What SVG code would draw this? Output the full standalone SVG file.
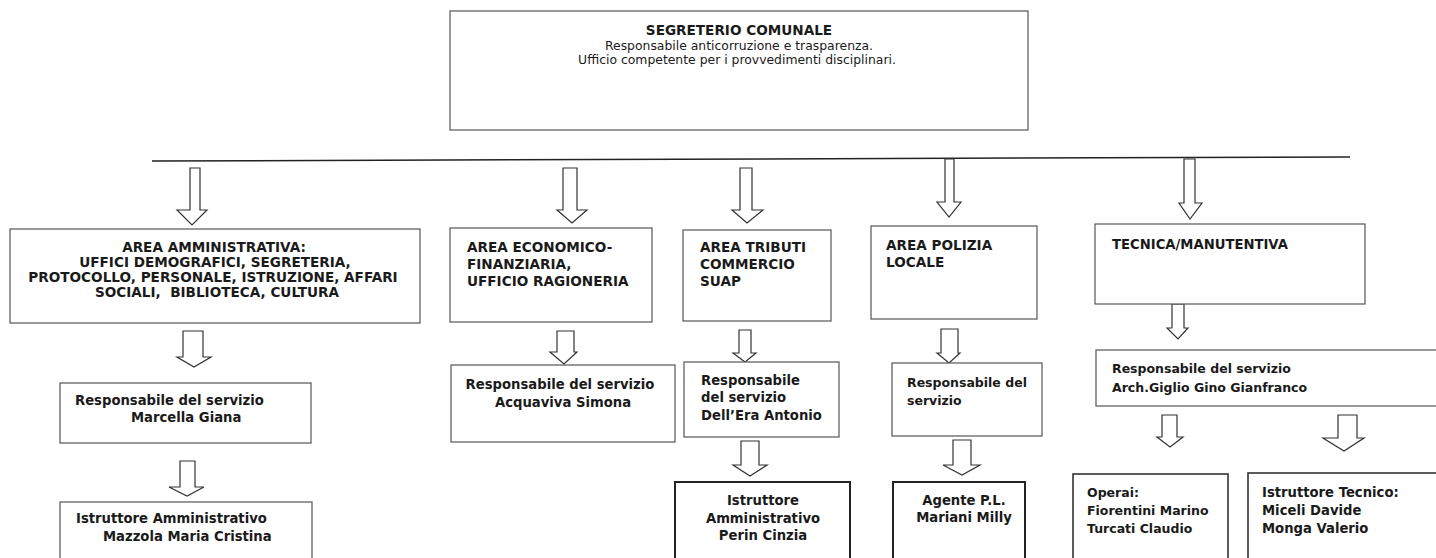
<svg xmlns="http://www.w3.org/2000/svg" width="1436" height="558" viewBox="0 0 1436 558">
<style>
.box{fill:#fff;stroke:#555;stroke-width:1.2}
.bx2{fill:#fff;stroke:#222;stroke-width:2}
.arr{fill:#fff;stroke:#333;stroke-width:1.2;stroke-linejoin:miter}
.t{font-family:"DejaVu Sans","Liberation Sans",sans-serif;font-weight:bold;font-size:13.2px;fill:#1a1a1a}
.r{font-family:"DejaVu Sans","Liberation Sans",sans-serif;font-size:12.4px;fill:#1a1a1a}
.m{text-anchor:middle}
.s{font-size:12.5px}
.l{font-size:13.6px}
</style>
<rect width="1436" height="558" fill="#fff"/>
<g id="connectors">
<line x1="152" y1="161" x2="1350" y2="157" stroke="#222" stroke-width="1.5"/>
<path class="arr" d="M190,168H200V210H207L192,225L177,210H190Z"/>
<path class="arr" d="M563,168H577V210H587L572,223L557,210H563Z"/>
<path class="arr" d="M740,168H752V210H763L747,223L732,210H740Z"/>
<path class="arr" d="M945,159H954V202H961L949,217L937,202H945Z"/>
<path class="arr" d="M1184,159H1195V203H1202L1190,219L1179,203H1184Z"/>
<path class="arr" d="M183,331H203V357H211L194,367L177,357H183Z"/>
<path class="arr" d="M557,331H574V352H577L564,364L550,352H557Z"/>
<path class="arr" d="M739,330H751V353H756L745,362L733,353H739Z"/>
<path class="arr" d="M941,329H958V353H960L949,363L937,353H941Z"/>
<path class="arr" d="M1172,304H1184V328H1188L1178,339L1167,328H1172Z"/>
<path class="arr" d="M180,461H195V487H204L187,496L169,487H180Z"/>
<path class="arr" d="M741,441H759V465H767L750,476L733,465H741Z"/>
<path class="arr" d="M953,440H971V465H980L962,475L943,465H953Z"/>
<path class="arr" d="M1162,415H1177V437H1183L1170,447L1157,437H1162Z"/>
<path class="arr" d="M1338,415H1357V438H1364L1344,451L1323,438H1338Z"/>
</g>
<g id="segreterio">
<rect class="box" x="450" y="11" width="578" height="119"/>
<text class="t m l" x="739" y="35">SEGRETERIO COMUNALE</text>
<text class="r m" x="739" y="50">Responsabile anticorruzione e trasparenza.</text>
<text class="r m" x="737" y="64">Ufficio competente per i provvedimenti disciplinari.</text>
</g>
<g id="area-amministrativa">
<rect class="box" x="10" y="229" width="410" height="94"/>
<text class="t m l" x="214" y="252">AREA AMMINISTRATIVA:</text>
<text class="t m l" x="215" y="267">UFFICI DEMOGRAFICI, SEGRETERIA,</text>
<text class="t m l" x="213" y="282">PROTOCOLLO, PERSONALE, ISTRUZIONE, AFFARI</text>
<text class="t m l" x="217" y="297" xml:space="preserve">SOCIALI,  BIBLIOTECA, CULTURA</text>
</g>
<g id="area-economico">
<rect class="box" x="450" y="228" width="202" height="94"/>
<text class="t l" x="467" y="252">AREA ECONOMICO-</text>
<text class="t l" x="467" y="269">FINANZIARIA,</text>
<text class="t l" x="467" y="286">UFFICIO RAGIONERIA</text>
</g>
<g id="area-tributi">
<rect class="box" x="683" y="230" width="148" height="91"/>
<text class="t l" x="700" y="252">AREA TRIBUTI</text>
<text class="t l" x="700" y="269">COMMERCIO</text>
<text class="t l" x="700" y="286">SUAP</text>
</g>
<g id="area-polizia">
<rect class="box" x="871" y="226" width="166" height="93"/>
<text class="t l" x="886" y="250">AREA POLIZIA</text>
<text class="t l" x="886" y="267">LOCALE</text>
</g>
<g id="tecnica">
<rect class="box" x="1095" y="224" width="270" height="80"/>
<text class="t" x="1112" y="249">TECNICA/MANUTENTIVA</text>
</g>
<g id="resp-marcella">
<rect class="box" x="60" y="383" width="251" height="60"/>
<text class="t" x="75" y="405">Responsabile del servizio</text>
<text class="t" x="131" y="422">Marcella Giana</text>
</g>
<g id="istr-mazzola">
<rect class="box" x="60" y="502" width="252" height="70"/>
<text class="t" x="76" y="523">Istruttore Amministrativo</text>
<text class="t" x="103" y="541">Mazzola Maria Cristina</text>
</g>
<g id="resp-acquaviva">
<rect class="box" x="451" y="365" width="224" height="77"/>
<text class="t m" x="560" y="389">Responsabile del servizio</text>
<text class="t m" x="563" y="407">Acquaviva Simona</text>
</g>
<g id="resp-dellera">
<rect class="box" x="684" y="362" width="155" height="75"/>
<text class="t" x="701" y="385">Responsabile</text>
<text class="t" x="701" y="402">del servizio</text>
<text class="t" x="701" y="420">Dell’Era Antonio</text>
</g>
<g id="istr-perin">
<rect class="bx2" x="675" y="482" width="175" height="90"/>
<text class="t m" x="763" y="505">Istruttore</text>
<text class="t m" x="763" y="523">Amministrativo</text>
<text class="t m" x="763" y="540">Perin Cinzia</text>
</g>
<g id="resp-polizia">
<rect class="box" x="892" y="363" width="150" height="73"/>
<text class="t s" x="907" y="387">Responsabile del</text>
<text class="t s" x="907" y="405">servizio</text>
</g>
<g id="agente-mariani">
<rect class="bx2" x="893" y="482" width="132" height="90"/>
<text class="t m" x="964" y="505">Agente P.L.</text>
<text class="t m" x="964" y="522">Mariani Milly</text>
</g>
<g id="resp-giglio">
<rect class="box" x="1096" y="350" width="350" height="56"/>
<text class="t s" x="1112" y="373">Responsabile del servizio</text>
<text class="t s" x="1112" y="392">Arch.Giglio Gino Gianfranco</text>
</g>
<g id="operai">
<rect class="box" x="1073" y="474" width="155" height="98" style="stroke-width:1.6;stroke:#333"/>
<text class="t s" x="1087" y="497">Operai:</text>
<text class="t s" x="1087" y="515">Fiorentini Marino</text>
<text class="t s" x="1087" y="533">Turcati Claudio</text>
</g>
<g id="istr-tecnico">
<rect class="box" x="1248" y="473" width="200" height="99" style="stroke-width:1.6;stroke:#333"/>
<text class="t" x="1262" y="497">Istruttore Tecnico:</text>
<text class="t" x="1262" y="515">Miceli Davide</text>
<text class="t" x="1262" y="533">Monga Valerio</text>
</g>
</svg>
